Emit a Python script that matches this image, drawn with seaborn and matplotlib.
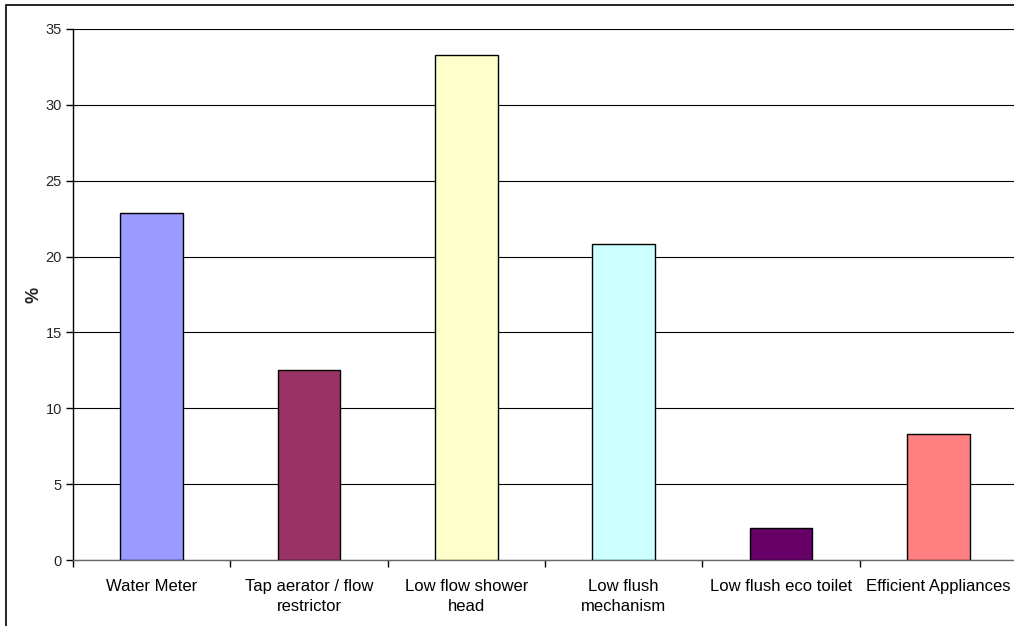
import matplotlib
matplotlib.use("Agg")
import matplotlib.pyplot as plt
from matplotlib.patches import Rectangle
import seaborn as sns
import pandas as pd

# Share of households adopting each water-saving measure
categories = ["Water Meter", "Tap aerator / flow\nrestrictor", "Low flow shower\nhead",
              "Low flush\nmechanism", "Low flush eco toilet", "Efficient Appliances"]
percent = [22.9, 12.5, 33.3, 20.8, 2.1, 8.3]
colors = ["#9999FF", "#993366", "#FFFFCC", "#CCFFFF", "#660066", "#FF8080"]
y_ticks = [0, 5, 10, 15, 20, 25, 30, 35]

sns.set_theme(style="white")
plt.rcParams["font.family"] = ["Liberation Sans", "DejaVu Sans"]

df = pd.DataFrame({"measure": categories, "pct": percent})

W, H = 1014, 626
fig = plt.figure(figsize=(W / 100, H / 100), dpi=100)
fig.patch.set_facecolor("white")

# Outer chart frame
fig.patches.append(Rectangle((6 / W, -0.2), 1.2, 1.2 - 5 / H, transform=fig.transFigure,
                             fill=False, edgecolor="black", linewidth=1.2))

ax = fig.add_axes([73 / W, (H - 560) / H, 944 / W, 531 / H])
ax.set_zorder(1)

sns.barplot(data=df, x="measure", y="pct", hue="measure", palette=colors, saturation=1,
            width=0.4, edgecolor="black", linewidth=1.0, legend=False, ax=ax, zorder=3)

ax.set_xlim(-0.5, len(categories) - 0.5)
ax.set_ylim(0, 35)
ax.set_yticks(y_ticks)
ax.set_yticklabels([str(t) for t in y_ticks], fontsize=10.5)
ax.yaxis.grid(True, color="black", linewidth=0.8, zorder=0)
ax.set_axisbelow(True)

# Category labels centred under bars, tick marks on the category boundaries
ax.set_xticks(range(len(categories)))
ax.set_xticklabels(categories, fontsize=12, linespacing=1.4)
ax.set_xticks([i - 0.5 for i in range(len(categories) + 1)], minor=True)
ax.tick_params(axis="x", which="major", length=0, pad=14, colors="black")
ax.tick_params(axis="x", which="minor", length=5, width=1, color="black", direction="out", bottom=True)
ax.tick_params(axis="y", length=5, width=1, color="black", direction="out", left=True, pad=3)

ax.set_xlabel("")
ax.set_ylabel("%", fontsize=13, fontweight="bold", labelpad=2)

for side in ["top", "right"]:
    ax.spines[side].set_visible(False)
ax.spines["left"].set_color("black")
ax.spines["left"].set_linewidth(1)
ax.spines["bottom"].set_color("#666666")
ax.spines["bottom"].set_linewidth(1)
ax.set_facecolor("white")

fig.savefig("out.png", dpi=100)
